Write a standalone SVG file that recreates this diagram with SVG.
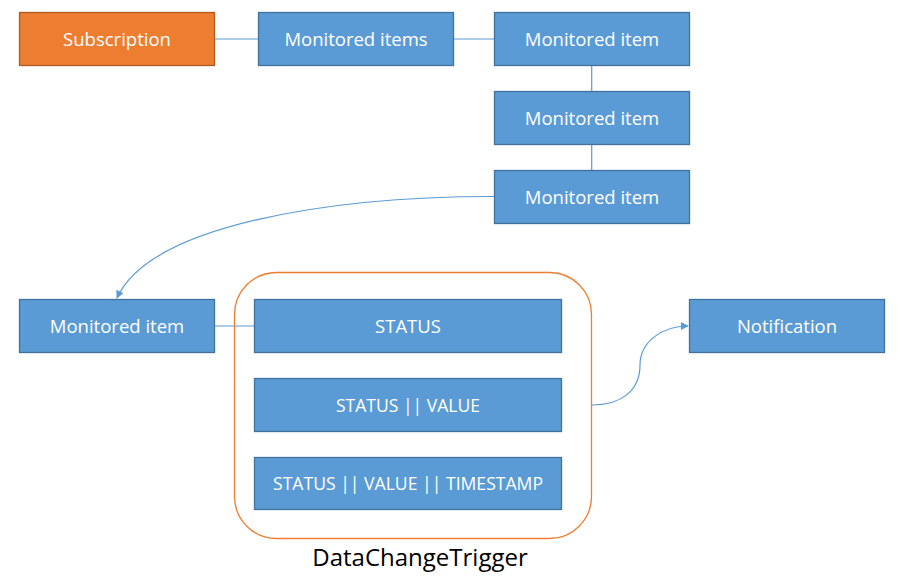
<svg xmlns="http://www.w3.org/2000/svg" width="902" height="585" viewBox="0 0 902 585">
<style>
.b{fill:#5B9BD5;stroke:#41719C;stroke-width:1.3}
.o{fill:#ED7D31;stroke:#AE5A21;stroke-width:1.3}
.t{fill:#fff;font-family:"Open Sans","Noto Sans",sans-serif;font-size:18.5px;text-anchor:middle;dominant-baseline:central}
.c{fill:none;stroke:#5B9BD5;stroke-width:1.2}
</style>
<defs>
<marker id="ah" viewBox="0 0 10 10" refX="9" refY="5" markerWidth="8" markerHeight="8" markerUnits="userSpaceOnUse" orient="auto">
<path d="M0,0 L10,5 L0,10 z" fill="#5B9BD5"/>
</marker>
</defs>
<g id="connectors">
<line class="c" x1="214.5" y1="39" x2="258.5" y2="39"/>
<line class="c" x1="453.5" y1="39" x2="494.5" y2="39"/>
<line class="c" x1="591.7" y1="65.5" x2="591.7" y2="91.5"/>
<line class="c" x1="591.7" y1="144.5" x2="591.7" y2="170.5"/>
<path class="c" d="M494,196.5 C330,196.5 150,225 117,298" marker-end="url(#ah)"/>
<line class="c" x1="214.5" y1="326" x2="254.5" y2="326"/>
<path class="c" d="M592,405 C622,405 640,390 640,365 C640,342 662,326 688,326" marker-end="url(#ah)"/>
</g>
<g id="trigger">
<rect x="234.5" y="272.5" width="357" height="266" rx="42" ry="42" fill="none" stroke="#ED7D31" stroke-width="1.3"/>
<text x="420" y="566" font-family="'Open Sans','Noto Sans',sans-serif" font-size="24" text-anchor="middle" fill="#000">DataChangeTrigger</text>
</g>
<g id="subscription"><rect class="o" x="19.5" y="12.5" width="195" height="53"/><text class="t" x="117" y="38">Subscription</text></g>
<g id="monitored-items"><rect class="b" x="258.5" y="12.5" width="195" height="53"/><text class="t" x="356" y="38">Monitored items</text></g>
<g id="mi1"><rect class="b" x="494.5" y="12.5" width="195" height="53"/><text class="t" x="592" y="38">Monitored item</text></g>
<g id="mi2"><rect class="b" x="494.5" y="91.5" width="195" height="53"/><text class="t" x="592" y="117">Monitored item</text></g>
<g id="mi3"><rect class="b" x="494.5" y="170.5" width="195" height="53"/><text class="t" x="592" y="196">Monitored item</text></g>
<g id="mi-left"><rect class="b" x="19.5" y="299.5" width="195" height="53"/><text class="t" x="117" y="325">Monitored item</text></g>
<g id="status"><rect class="b" x="254.5" y="299.5" width="307" height="53"/><text class="t" x="408" y="325">STATUS</text></g>
<g id="status-value"><rect class="b" x="254.5" y="378.5" width="307" height="53"/><text class="t" x="408" y="404" textLength="144" lengthAdjust="spacingAndGlyphs">STATUS || VALUE</text></g>
<g id="status-value-timestamp"><rect class="b" x="254.5" y="457.5" width="307" height="52"/><text class="t" x="408" y="482.5" textLength="270" lengthAdjust="spacingAndGlyphs">STATUS || VALUE || TIMESTAMP</text></g>
<g id="notification"><rect class="b" x="689.5" y="299.5" width="195" height="53"/><text class="t" x="787" y="325">Notification</text></g>
</svg>
